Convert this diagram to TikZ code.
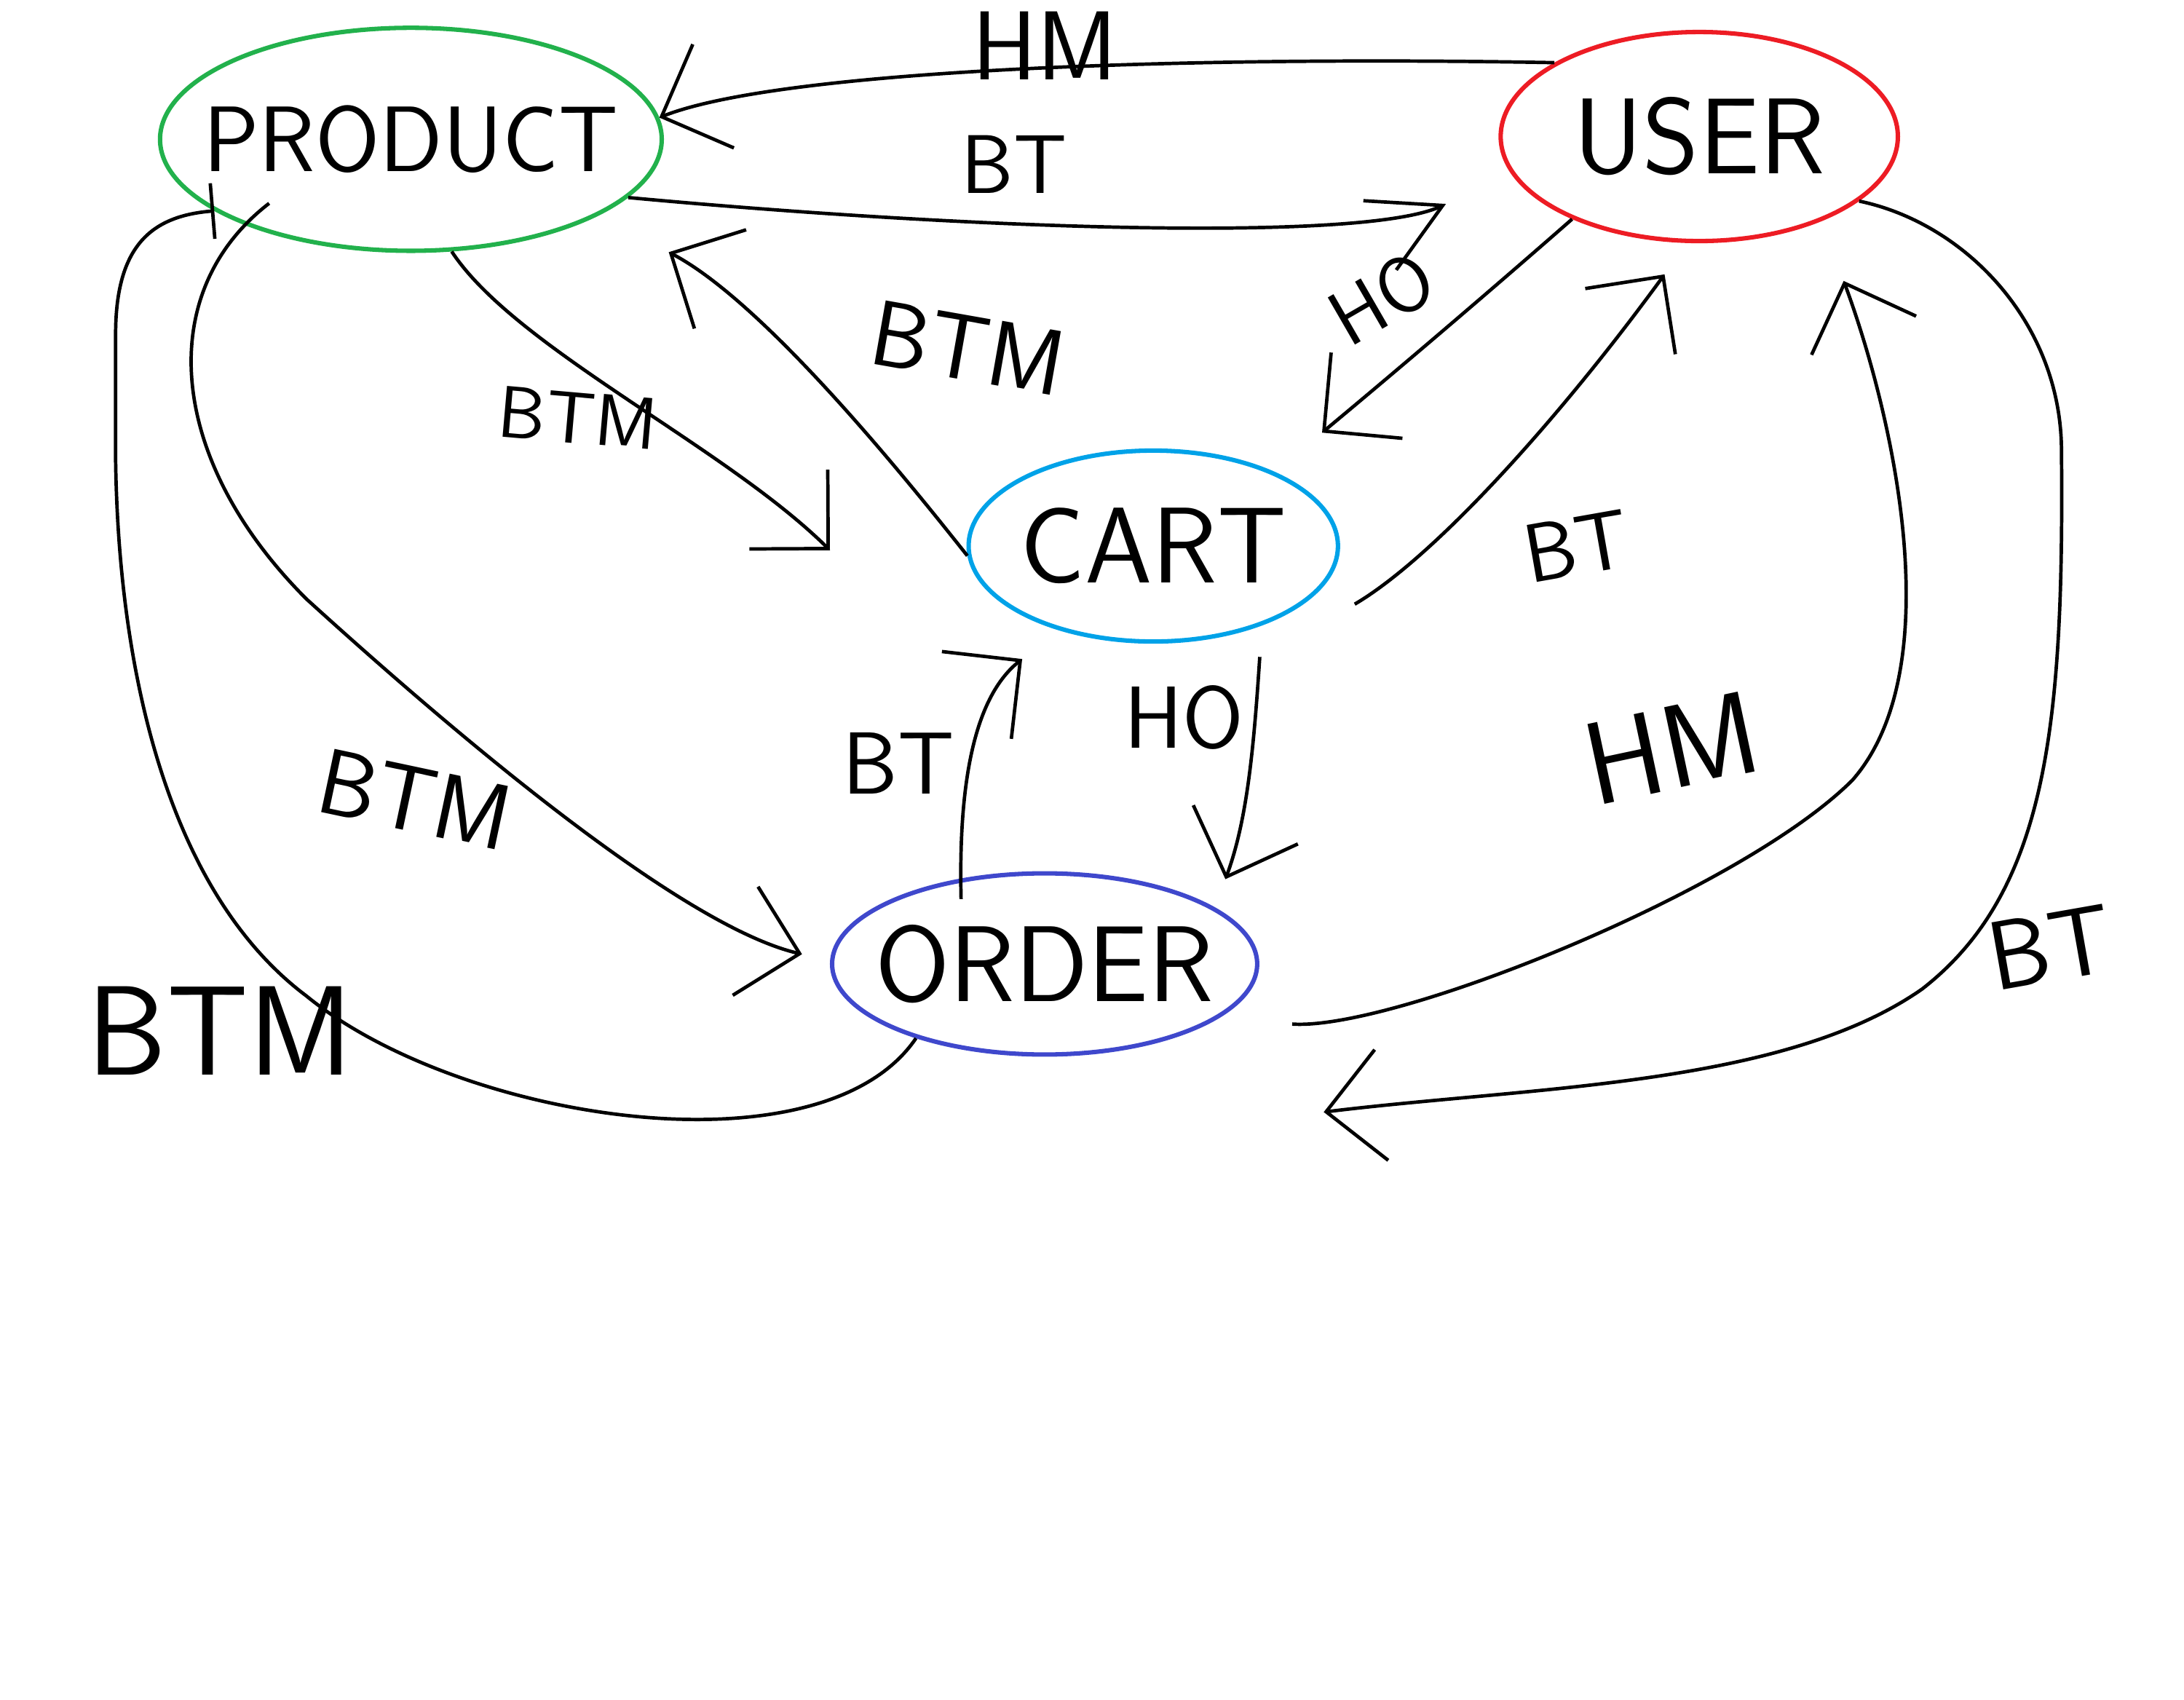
\documentclass[tikz,border=0pt]{standalone}
\usetikzlibrary{shapes.geometric, arrows.meta}

\definecolor{pgreen}{RGB}{34,177,76}
\definecolor{ured}{RGB}{237,28,36}
\definecolor{cblue}{RGB}{0,162,232}
\definecolor{oblue}{RGB}{63,72,204}

\begin{document}
\begin{tikzpicture}[x=0.01cm, y=-0.01cm,
  entity/.style={ellipse, draw, line width=0.9pt, inner ysep=0pt, inner xsep=-0.35cm, font=\sffamily\fontsize{22}{22}\selectfont},
  lbl/.style={inner sep=0pt, font=\sffamily\fontsize{18}{18}\selectfont},
  rel/.style={line width=0.7pt, -{Straight Barb[length=4mm, width=8mm]}}]
\color{black}
\useasboundingbox (0,0) rectangle (1568,1220);

\node[entity, draw=pgreen, minimum width=3.6cm, minimum height=1.6cm, font=\sffamily\fontsize{19}{19}\selectfont] (product) at (295,100) {PRODUCT};
\node[entity, draw=ured, minimum width=2.85cm, minimum height=1.5cm] (user) at (1220,98) {USER};
\node[entity, draw=cblue, minimum width=2.65cm, minimum height=1.37cm] (cart) at (828,392) {CART};
\node[entity, draw=oblue, minimum width=3.05cm, minimum height=1.3cm] (order) at (750,692) {ORDER};

\node[lbl, font=\sffamily\fontsize{20}{20}\selectfont] (hmtop) at (750,33) {HM};
\node[lbl, font=\sffamily\fontsize{17}{17}\selectfont] (bttop) at (728,118) {BT};
\node[lbl, font=\sffamily\fontsize{19}{19}\selectfont, rotate=-10] (btmcp) at (695,250) {BTM};
\node[lbl, font=\sffamily\fontsize{15}{15}\selectfont, rotate=-5] (btmpc) at (415,300) {BTM};
\node[lbl, font=\sffamily\fontsize{16}{16}\selectfont, rotate=30] (houc) at (992,214) {HO};
\node[lbl, font=\sffamily\fontsize{17}{17}\selectfont, rotate=10] (btcu) at (1132,392) {BT};
\node[lbl] (btoc) at (645,548) {BT};
\node[lbl] (hoco) at (850,515) {HO};
\node[lbl, font=\sffamily\fontsize{19}{19}\selectfont, rotate=-12] (btmpo) at (298,574) {BTM};
\node[lbl, font=\sffamily\fontsize{26}{26}\selectfont] (btmop) at (158,740) {BTM};
\node[lbl, font=\sffamily\fontsize{24}{24}\selectfont, rotate=12] (hmou) at (1200,537) {HM};
\node[lbl, font=\sffamily\fontsize{20}{20}\selectfont, rotate=10] (btuo) at (1472,680) {BT};

\draw[rel] (user.153) .. controls (850,40) and (560,50) .. (product.5);
\draw[rel, -{Straight Barb[length=5mm, width=5.5mm]}] (product.-15) .. controls (700,165) and (980,174) .. ([shift={(-55,12)}]user.196);

\draw[rel] (cart.183) .. controls (640,330) and (545,215) .. ([shift={(47,28)}]product.-21);
\draw[rel] (product.-70) .. controls (370,250) and (520,320) .. ([shift={(-98,3)}]cart.west);

\draw[rel] (user.213) .. controls (1080,200) and (1010,260) .. ([shift={(39,-26)}]cart.34);
\draw[rel] ([shift={(27,8)}]cart.-16) .. controls (1030,400) and (1120,300) .. ([shift={(-6,23)}]user.-104);

\draw[rel] ([shift={(-60,20)}]order.north) .. controls (688,560) and (700,500) .. ([shift={(-25,21)}]cart.221);
\draw[rel] ([shift={(16,17)}]cart.-46) .. controls (900,540) and (895,590) .. ([shift={(25,-12)}]order.25);

\draw[rel] ([shift={(-16,-26)}]product.220) .. controls (110,210) and (120,330) .. (220,430)
  .. controls (330,530) and (490,665) .. ([shift={(-20,-7)}]order.west);
\draw[rel, -{Bar[width=4mm]}] (order.210) .. controls (590,845) and (330,805) .. (220,715)
  .. controls (120,640) and (85,480) .. (83,330) -- (83,240)
  .. controls (83,175) and (110,155) .. (product.200);

\draw[rel] ([shift={(35,18)}]order.-10) .. controls (1000,740) and (1250,640) .. (1330,560)
  .. controls (1400,480) and (1360,300) .. ([shift={(36,36)}]user.-45);
\draw[rel] (user.-22) .. controls (1410,160) and (1478,230) .. (1480,320)
  .. controls (1482,520) and (1470,640) .. (1380,710)
  .. controls (1280,780) and (1100,780) .. ([shift={(108,53)}]order.-30);
\end{tikzpicture}
\end{document}
